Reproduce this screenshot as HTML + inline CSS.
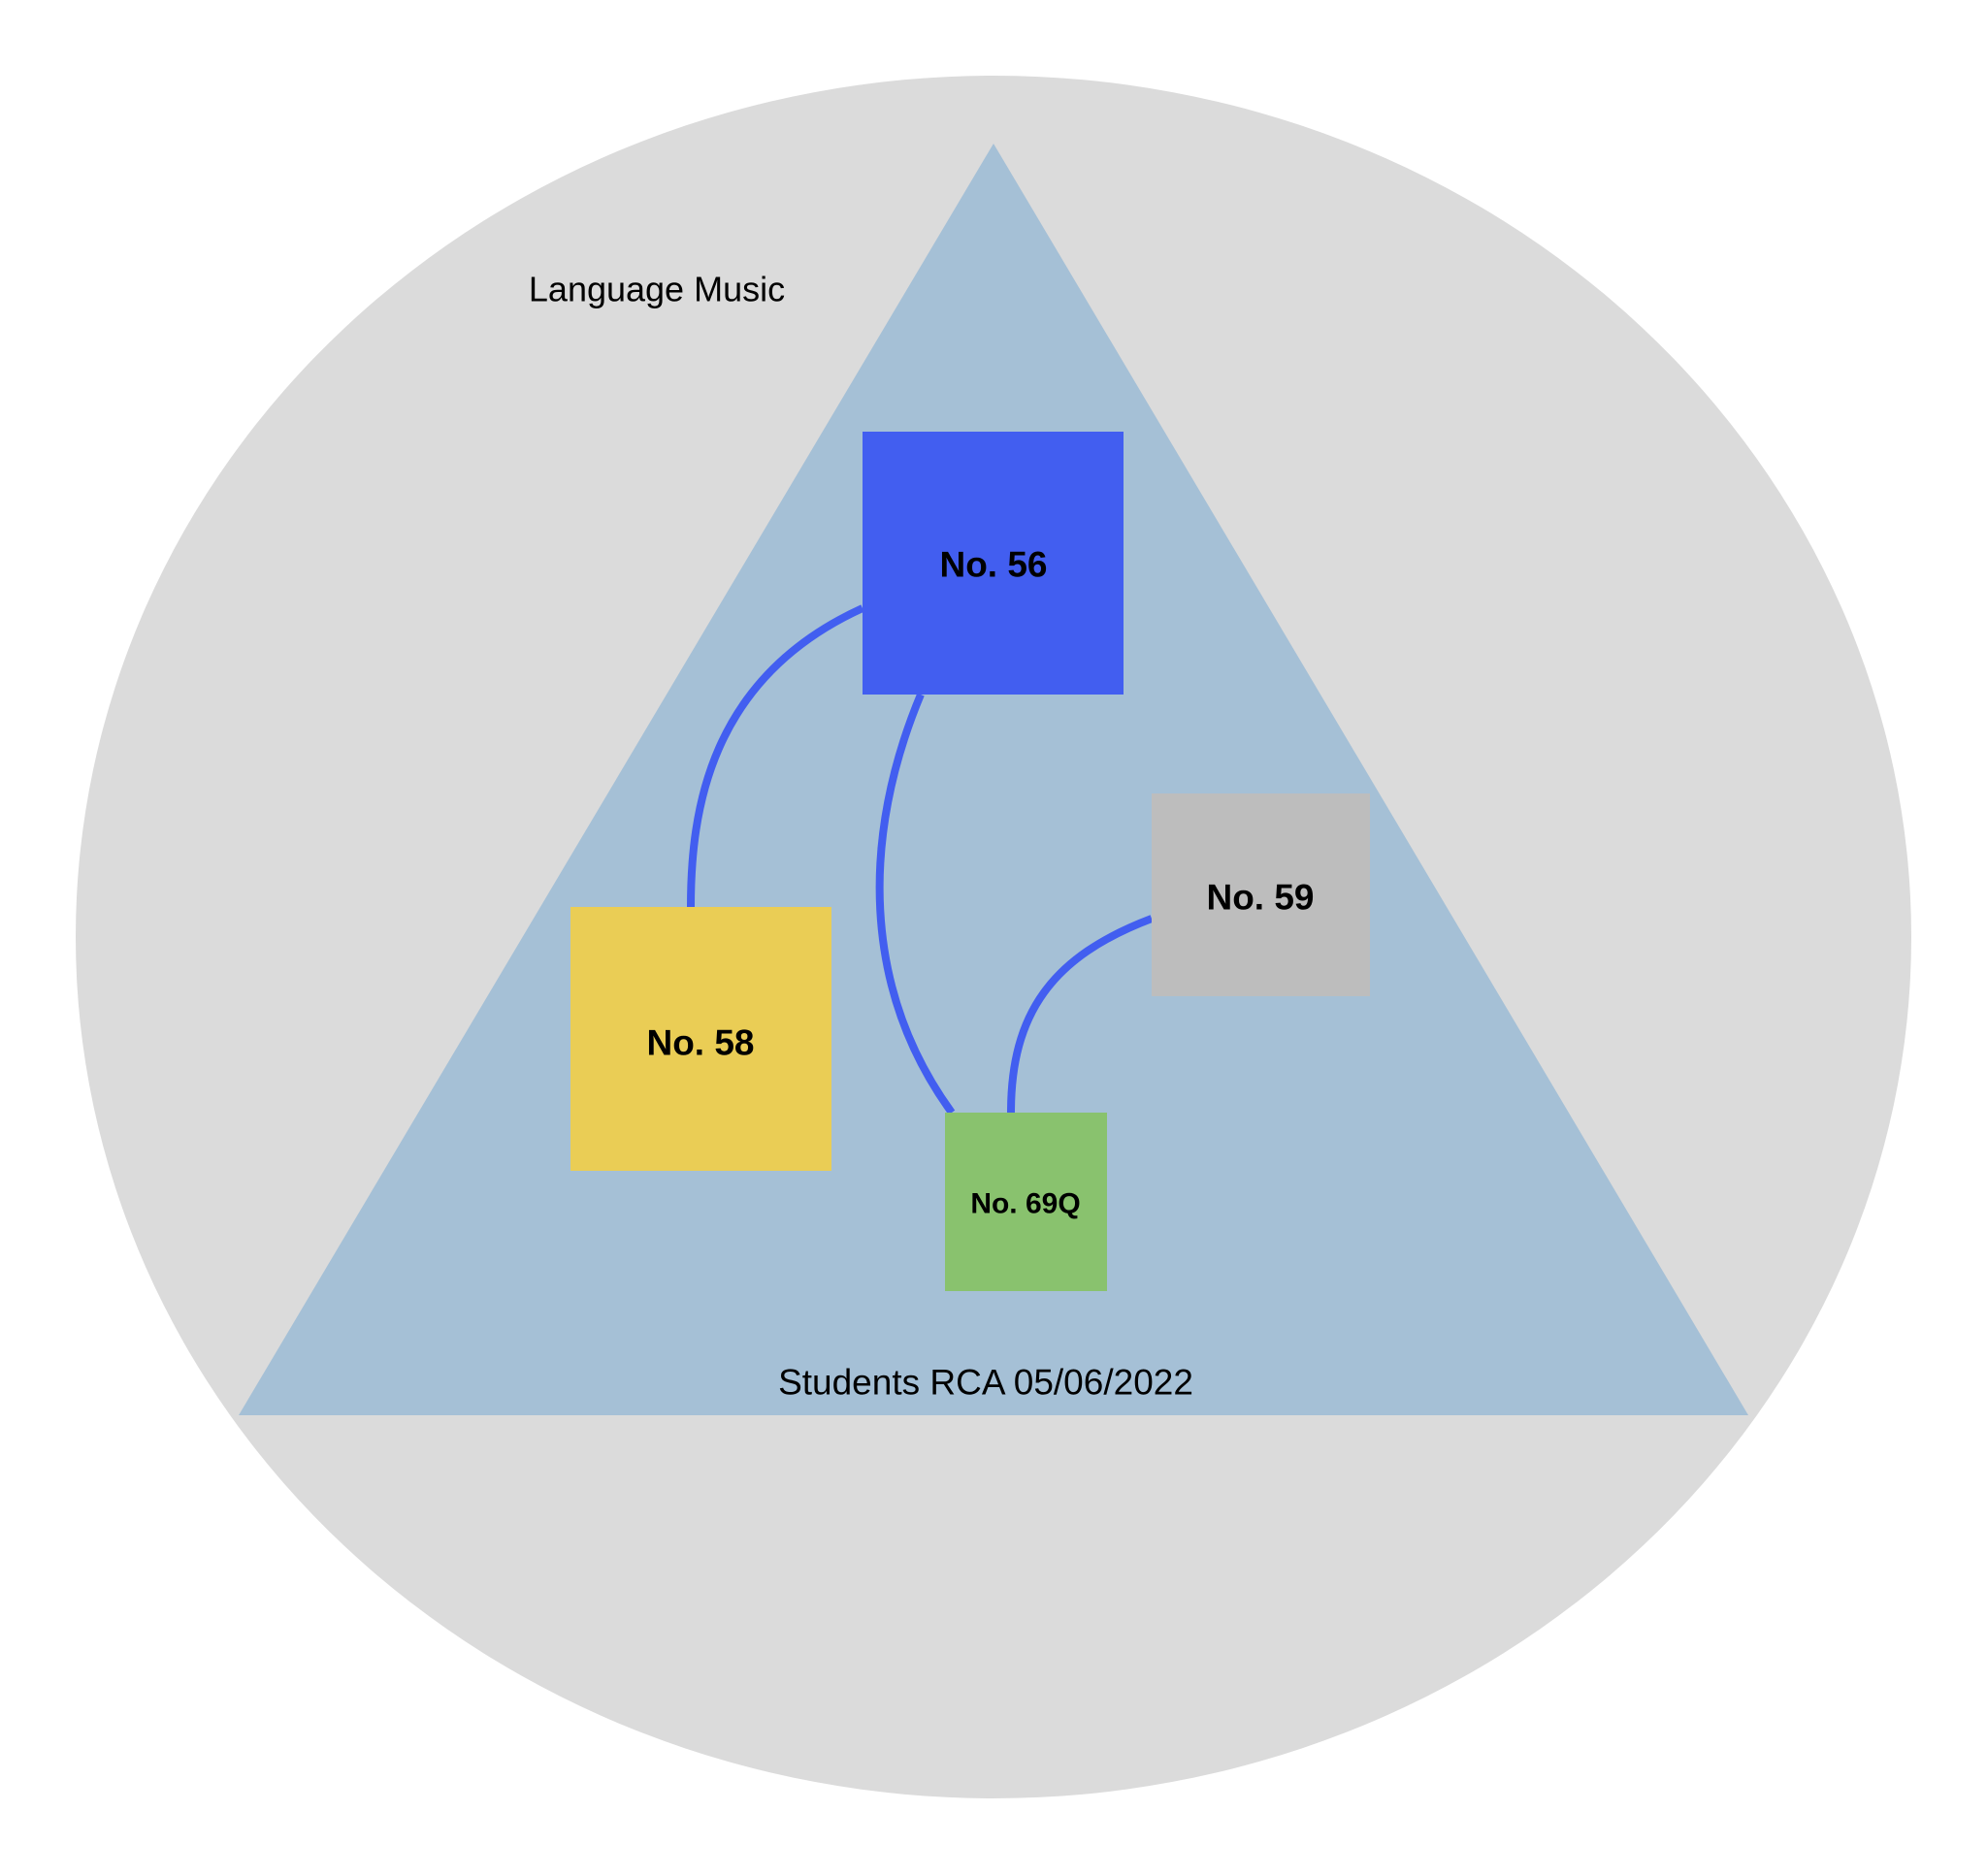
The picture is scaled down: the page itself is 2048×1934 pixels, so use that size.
<!DOCTYPE html>
<html><head><style>html,body{margin:0;padding:0;background:#fff}svg{display:block}</style></head>
<body>
<svg width="2048" height="1934" viewBox="0 0 2048 1934" xmlns="http://www.w3.org/2000/svg">
<ellipse cx="1024" cy="966" rx="946" ry="888" fill="#dbdbdb"/>
<polygon points="1024,148 1802,1459 246,1459" fill="#a5c0d6"/>
<g fill="none" stroke="#425ef0" stroke-width="8">
<path d="M889,627 C731,699 712,836 712,935"/>
<path d="M949,716 C888,862 888,1019 981,1147"/>
<path d="M1187,947 C1084,986 1042,1045 1042,1147"/>
</g>
<rect x="889" y="445" width="269" height="271" fill="#425ef0"/>
<rect x="588" y="935" width="269" height="272" fill="#eacd55"/>
<rect x="1187" y="818" width="225" height="209" fill="#bdbdbd"/>
<rect x="974" y="1147" width="167" height="184" fill="#89c26e"/>
<g font-family="Liberation Sans, sans-serif" text-anchor="middle" dominant-baseline="central">
<text x="677" y="298" font-size="36">Language Music</text>
<text x="1016" y="1425" font-size="37">Students RCA 05/06/2022</text>
<g font-weight="bold">
<text x="1024" y="582" font-size="37">No. 56</text>
<text x="722" y="1075" font-size="37">No. 58</text>
<text x="1299" y="925" font-size="37">No. 59</text>
<text x="1057" y="1241" font-size="30">No. 69Q</text>
</g></g>
</svg>
</body></html>
